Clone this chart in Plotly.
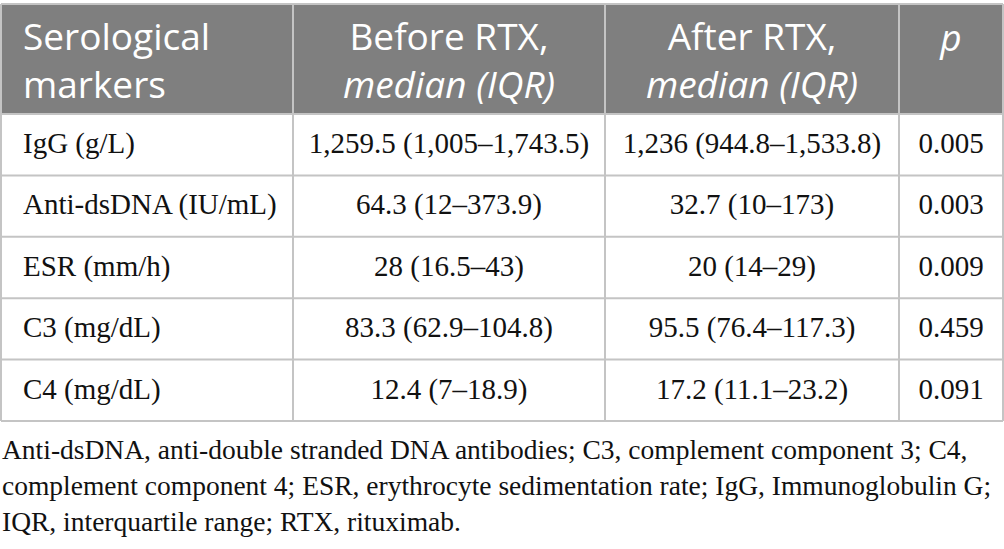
import numpy as np
import plotly.graph_objects as go

markers = ["IgG (g/L)", "Anti-dsDNA (IU/mL)", "ESR (mm/h)", "C3 (mg/dL)", "C4 (mg/dL)"]
before_rtx = [
    "1,259.5 (1,005–1,743.5)",
    "64.3 (12–373.9)",
    "28 (16.5–43)",
    "83.3 (62.9–104.8)",
    "12.4 (7–18.9)",
]
after_rtx = [
    "1,236 (944.8–1,533.8)",
    "32.7 (10–173)",
    "20 (14–29)",
    "95.5 (76.4–117.3)",
    "17.2 (11.1–23.2)",
]
p_values = ["0.005", "0.003", "0.009", "0.459", "0.091"]

headers = [
    "Serological<br>markers",
    "Before RTX,<br><i>median (IQR)</i>",
    "After RTX,<br><i>median (IQR)</i>",
    "<i>p</i>",
]
footnote = [
    "Anti-dsDNA, anti-double stranded DNA antibodies; C3, complement component 3; C4,",
    "complement component 4; ESR, erythrocyte sedimentation rate; IgG, Immunoglobulin G;",
    "IQR, interquartile range; RTX, rituximab.",
]

# layout of the table, in pixels (axes are set 1:1 to the page)
W, H = 1004, 549
x0, y0 = 1, 4
col_w = np.array([292, 312, 294, 104])
header_h, row_h = 110, 61.4
header_mid, p_y = 65, 42
pad_left = 22
grid = "#c4c4c4"
header_fill = "#7f7f7f"
ink = "#111111"

col_edges = x0 + np.concatenate([[0], np.cumsum(col_w)])
row_edges = y0 + header_h + row_h * np.arange(len(markers) + 1)
x1 = col_edges[-1]
y1 = row_edges[-1]

fig = go.Figure()

# header band
fig.add_shape(type="rect", x0=x0, x1=x1, y0=y0, y1=row_edges[0],
              fillcolor=header_fill, line_width=0, layer="below")

# grid lines
for y in [y0, *row_edges]:
    fig.add_shape(type="line", x0=x0, x1=x1, y0=y, y1=y, line=dict(color=grid, width=2))
for x in col_edges:
    fig.add_shape(type="line", x0=x, x1=x, y0=y0, y1=y1, line=dict(color=grid, width=2))

col_centers = (col_edges[:-1] + col_edges[1:]) / 2
text_x = [col_edges[0] + pad_left, *col_centers[1:]]
positions = ["middle right", "middle center", "middle center", "middle center"]

# header text (single-line "p" sits on the first line)
header_y = [header_mid if "<br>" in h else p_y for h in headers]
for j, label in enumerate(headers):
    fig.add_trace(go.Scatter(
        x=[text_x[j]], y=[header_y[j]], mode="text", text=[label],
        textposition=positions[j],
        textfont=dict(family="Open Sans", size=37, color="white"),
        showlegend=False, hoverinfo="skip",
    ))

# body text
row_centers = (row_edges[:-1] + row_edges[1:]) / 2
for j, col in enumerate([markers, before_rtx, after_rtx, p_values]):
    fig.add_trace(go.Scatter(
        x=[text_x[j]] * len(col), y=row_centers + 1, mode="text", text=col,
        textposition=positions[j],
        textfont=dict(family="Liberation Serif", size=29, color=ink),
        showlegend=False, hoverinfo="skip",
    ))

fig.add_annotation(
    text="<br>".join(footnote),
    x=x0 - 1, y=y1 + 64, xref="x", yref="y",
    xanchor="left", yanchor="middle", align="left",
    showarrow=False,
    font=dict(family="Liberation Serif", size=27.5, color=ink),
)

fig.update_xaxes(range=[0, W], visible=False, fixedrange=True)
fig.update_yaxes(range=[H, 0], visible=False, fixedrange=True)
fig.update_layout(
    width=W, height=H,
    margin=dict(l=0, r=0, t=0, b=0),
    paper_bgcolor="white", plot_bgcolor="white",
)
fig.write_html("out.html", config={"displayModeBar": False},
               post_script="document.body.style.margin='0';")
